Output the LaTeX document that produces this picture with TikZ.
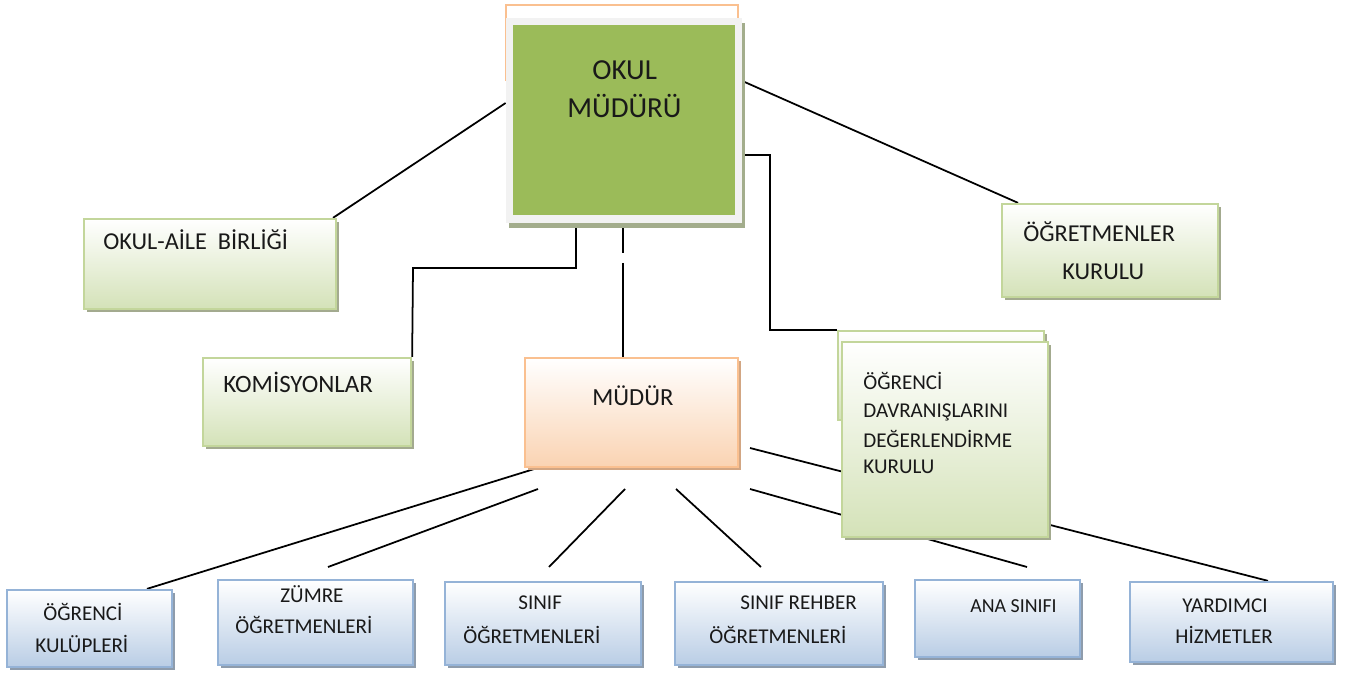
\documentclass[tikz,border=0pt]{standalone}
\usepackage{fontspec}
\setmainfont{Carlito}
\usetikzlibrary{fit,shadows,calc}
\pgfdeclarelayer{background}
\pgfsetlayers{background,main}
\definecolor{okgreen}{HTML}{9BBB59}
\definecolor{framegray}{HTML}{F2F2F2}
\definecolor{topshadow}{HTML}{A3AD8C}
\definecolor{greenborder}{HTML}{C3D69B}
\definecolor{greenbottom}{HTML}{D4E2B8}
\definecolor{greenshadow}{HTML}{A3AA8F}
\definecolor{orangeborder}{HTML}{FAC090}
\definecolor{orangebottom}{HTML}{FAD3B2}
\definecolor{orangeshadow}{HTML}{D2A683}
\definecolor{blueborder}{HTML}{95B3D7}
\definecolor{bluebottom}{HTML}{B9CDE5}
\definecolor{blueshadow}{HTML}{8E9CAC}
\begin{document}
\begin{tikzpicture}[x=0.02cm,y=-0.02cm,
  boxbase/.style={inner sep=0pt, line width=1.3pt},
  gbox/.style={boxbase, draw=greenborder, top color=white, bottom color=greenbottom,
    drop shadow={shadow xshift=0.06cm, shadow yshift=-0.06cm, fill=greenshadow, opacity=1}},
  obox/.style={boxbase, draw=orangeborder, top color=white, bottom color=orangebottom,
    drop shadow={shadow xshift=0.06cm, shadow yshift=-0.06cm, fill=orangeshadow, opacity=1}},
  bluebox/.style={boxbase, draw=blueborder, top color=white, bottom color=bluebottom,
    drop shadow={shadow xshift=0.06cm, shadow yshift=-0.06cm, fill=blueshadow, opacity=1}},
  txt/.style={anchor=base west, inner sep=0pt, text=black!90, font=\fontsize{12}{14}\selectfont},
  bigtxt/.style={txt, font=\fontsize{13.8}{16}\selectfont},
  conn/.style={draw=black, line width=1pt}]
\useasboundingbox (0,0) rectangle (1349,675);

% top box
\node[boxbase, draw=orangeborder, fill=white, fit={(506,5)(738,80)}] (back) {};
\node[inner sep=0pt, fill=framegray, fit={(506,18)(742,223)},
  drop shadow={shadow xshift=0.06cm, shadow yshift=-0.1cm, fill=topshadow, opacity=1}] (frame) {};
\node[inner sep=0pt, fill=okgreen, fit={(513,25)(735,215)}] (okul) {};
\node[txt, font=\fontsize{16.5}{19}\selectfont] (okul1) at (592,80) {OKUL};
\node[txt, font=\fontsize{16.5}{19}\selectfont] (okul2) at (567,118) {MÜDÜRÜ};

% green boxes
\node[gbox, fit={(84,219)(336,309)}] (aile) {};
\node[bigtxt] (aile1) at (103,250) {OKUL-AİLE\ \ BİRLİĞİ};
\node[gbox, fit={(203,358)(411,446)}] (kom) {};
\node[bigtxt, font=\fontsize{14.2}{16}\selectfont] (kom1) at (223,393) {KOMİSYONLAR};
\node[gbox, fit={(1002,204)(1218,297)}] (ogrk) {};
\node[bigtxt] (ogrk1) at (1023,242) {ÖĞRETMENLER};
\node[bigtxt] (ogrk2) at (1062,280) {KURULU};
\node[gbox, drop shadow={opacity=0}, fit={(838,331)(1044,420)}] (davb) {};
\node[gbox, fit={(842,342)(1048,537)}] (dav) {};
\node[txt] (dav1) at (863,390) {ÖĞRENCİ};
\node[txt] (dav2) at (863,418) {DAVRANIŞLARINI};
\node[txt] (dav3) at (863,447) {DEĞERLENDİRME};
\node[txt] (dav4) at (863,474) {KURULU};

% mudur
\node[obox, fit={(525,358)(738,467)}] (mudur) {};
\node[txt, font=\fontsize{14}{16}\selectfont] (mudur1) at (592,406) {MÜDÜR};

% bottom boxes
\node[bluebox, fit={(7,590)(172,667)}] (kul) {};
\node[txt] (kul1) at (43,620) {ÖĞRENCİ};
\node[txt] (kul2) at (35,652) {KULÜPLERİ};
\node[bluebox, fit={(218,580)(413,665)}] (zum) {};
\node[txt] (zum1) at (280,602) {ZÜMRE};
\node[txt] (zum2) at (235,633) {ÖĞRETMENLERİ};
\node[bluebox, fit={(445,582)(641,665)}] (sin) {};
\node[txt] (sin1) at (518,609) {SINIF};
\node[txt] (sin2) at (463,643) {ÖĞRETMENLERİ};
\node[bluebox, fit={(675,582)(883,665)}] (reh) {};
\node[txt] (reh1) at (740,609) {SINIF REHBER};
\node[txt] (reh2) at (709,643) {ÖĞRETMENLERİ};
\node[bluebox, fit={(915,580)(1080,657)}] (ana) {};
\node[txt, font=\fontsize{11.3}{13}\selectfont] (ana1) at (970,612) {ANA SINIFI};
\node[bluebox, fit={(1130,582)(1333,662)}] (yard) {};
\node[txt] (yard1) at (1182,612) {YARDIMCI};
\node[txt] (yard2) at (1175,643) {HİZMETLER};

% free ends
\coordinate (gapA) at (623,253);
\coordinate (gapB) at (623,263);
\coordinate (b1s) at (538,489); \coordinate (b1e) at (328,567);
\coordinate (b2s) at (625,489); \coordinate (b2e) at (549,567);
\coordinate (b3s) at (676,489); \coordinate (b3e) at (761,567);
\coordinate (b4s) at (750,489); \coordinate (b4e) at (1027,567);
\coordinate (b5s) at (750,448);

\begin{pgfonlayer}{background}
\draw[conn] (frame.west |- 0,103) -- (aile.north -| 333,0);
\draw[conn] (frame.east |- 0,81) -- (ogrk.north -| 1018,0);
\draw[conn] (frame.south -| 576,0) |- (413,268) -- (kom.north east);
\draw[conn] (frame.south -| 623,0) -- (gapA);
\draw[conn] (gapB) -- (mudur.north -| 623,0);
\draw[conn] (frame.east |- 0,155) -- (770,155) |- (davb.north west);
\draw[conn] (mudur.south -| 537,0) -- (kul.north -| 147,0);
\draw[conn] (b1s) -- (b1e);
\draw[conn] (b2s) -- (b2e);
\draw[conn] (b3s) -- (b3e);
\draw[conn] (b4s) -- (b4e);
\draw[conn] (b5s) -- (yard.north -| 1268,0);
\end{pgfonlayer}
\end{tikzpicture}
\end{document}
